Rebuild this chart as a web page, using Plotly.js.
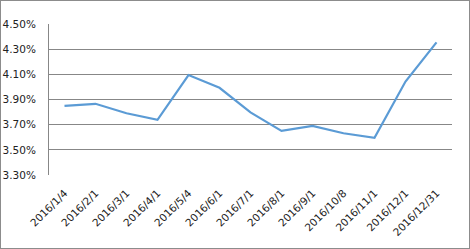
<!DOCTYPE html>
<html><head><meta charset="utf-8">
<script src="https://cdn.plot.ly/plotly-3.0.1.min.js"></script>
<style>html,body{margin:0;padding:0;background:#fff;}#c{width:468px;height:247px;border:1px solid #8c8c8c;}</style>
</head><body><div id="c"></div>
<script>
const categories = ["2016/1/4","2016/2/1","2016/3/1","2016/4/1","2016/5/4","2016/6/1","2016/7/1","2016/8/1","2016/9/1","2016/10/8","2016/11/1","2016/12/1","2016/12/31"];
const values = [0.0385,0.03866,0.03791,0.03738,0.04094,0.03993,0.03797,0.03651,0.0369,0.03632,0.03595,0.04043,0.04354];
const yTicks = [0.033,0.035,0.037,0.039,0.041,0.043,0.045];
const yTickLabels = ["3.30%","3.50%","3.70%","3.90%","4.10%","4.30%","4.50%"];

Plotly.newPlot('c', [{
  type:'scatter', mode:'lines', x:categories, y:values,
  line:{color:'#5B9BD5', width:2.2}, hoverinfo:'none'
}], {
  width:468, height:247,
  margin:{l:48,r:17,t:23,b:73},
  paper_bgcolor:'#fff', plot_bgcolor:'#fff',
  showlegend:false,
  font:{family:'DejaVu Sans', size:10.5, color:'#222'},
  xaxis:{type:'category', range:[-0.5,12.5], tickangle:-45, showgrid:false, zeroline:false,
    showline:false, ticks:'', fixedrange:true, tickfont:{size:10.5}, ticklabelstandoff:9},
  yaxis:{range:[0.033,0.045], tickvals:yTicks, ticktext:yTickLabels, showgrid:true,
    gridcolor:'#878787', gridwidth:1, zeroline:false, showline:true, linecolor:'#878787',
    linewidth:1, ticks:'', ticklabelstandoff:10, fixedrange:true}
}, {staticPlot:true, displayModeBar:false});
</script></body></html>
